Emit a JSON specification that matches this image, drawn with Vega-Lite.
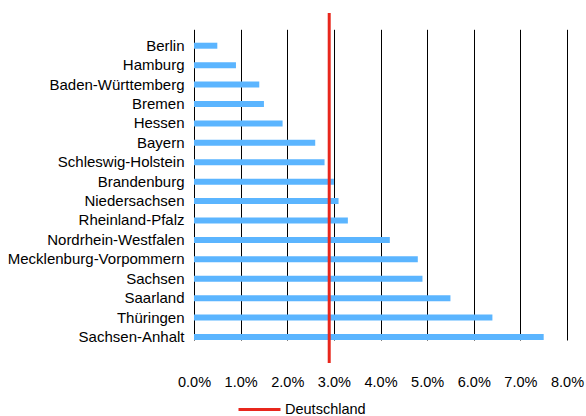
{
  "$schema": "https://vega.github.io/schema/vega-lite/v6.json",
  "width": 373,
  "height": 350,
  "autosize": {"type": "none"},
  "padding": {"left": 194, "top": 13, "right": 19, "bottom": 53},
  "background": "white",
  "config": {
    "view": {"stroke": null},
    "font": "Liberation Sans",
    "axis": {"labelFont": "Liberation Sans", "labelFontSize": 14.5, "labelColor": "#000"}
  },
  "datasets": {
    "states": [
      {"land": "Berlin", "wert": 0.005},
      {"land": "Hamburg", "wert": 0.009},
      {"land": "Baden-Württemberg", "wert": 0.014},
      {"land": "Bremen", "wert": 0.015},
      {"land": "Hessen", "wert": 0.019},
      {"land": "Bayern", "wert": 0.026},
      {"land": "Schleswig-Holstein", "wert": 0.028},
      {"land": "Brandenburg", "wert": 0.030},
      {"land": "Niedersachsen", "wert": 0.031},
      {"land": "Rheinland-Pfalz", "wert": 0.033},
      {"land": "Nordrhein-Westfalen", "wert": 0.042},
      {"land": "Mecklenburg-Vorpommern", "wert": 0.048},
      {"land": "Sachsen", "wert": 0.049},
      {"land": "Saarland", "wert": 0.055},
      {"land": "Thüringen", "wert": 0.064},
      {"land": "Sachsen-Anhalt", "wert": 0.075}
    ],
    "de": [
      {"series": "Deutschland", "wert": 0.029}
    ]
  },
  "layer": [
    {
      "data": {"name": "states"},
      "mark": {"type": "bar", "color": "#5BB5FF", "size": 6},
      "encoding": {
        "y": {
          "field": "land", "type": "nominal", "sort": null,
          "scale": {"range": [23, 333.7], "paddingInner": 0, "paddingOuter": 0},
          "axis": {"title": null, "domain": false, "ticks": false, "labelPadding": 10, "grid": false, "labelFontSize": 15}
        },
        "x": {
          "field": "wert", "type": "quantitative",
          "scale": {"domain": [0, 0.08], "nice": false},
          "axis": {
            "title": null, "format": ".1%", "values": [0, 0.01, 0.02, 0.03, 0.04, 0.05, 0.06, 0.07, 0.08],
            "domain": false, "ticks": false, "labelPadding": 12, "labelOverlap": false, "labelFlush": false,
            "grid": true, "gridColor": "#000", "gridOpacity": 1, "gridWidth": 1
          }
        }
      }
    },
    {
      "data": {"name": "de"},
      "mark": {"type": "rule", "strokeWidth": 3},
      "encoding": {
        "x": {
          "field": "wert", "type": "quantitative",
          "axis": {
            "title": null, "format": ".1%", "values": [0, 0.01, 0.02, 0.03, 0.04, 0.05, 0.06, 0.07, 0.08],
            "domain": false, "ticks": false, "labelPadding": 12, "labelOverlap": false, "labelFlush": false,
            "grid": true, "gridColor": "#000", "gridOpacity": 1, "gridWidth": 1
          }
        },
        "color": {
          "field": "series", "type": "nominal",
          "scale": {"domain": ["Deutschland"], "range": ["#E8261C"]},
          "legend": {
            "title": null, "orient": "none", "legendX": 43, "legendY": 374,
            "symbolType": "stroke", "symbolSize": 1764, "symbolStrokeWidth": 3,
            "labelFont": "Liberation Sans", "labelFontSize": 14.5, "labelColor": "#000", "labelOffset": 3
          }
        }
      }
    }
  ]
}
